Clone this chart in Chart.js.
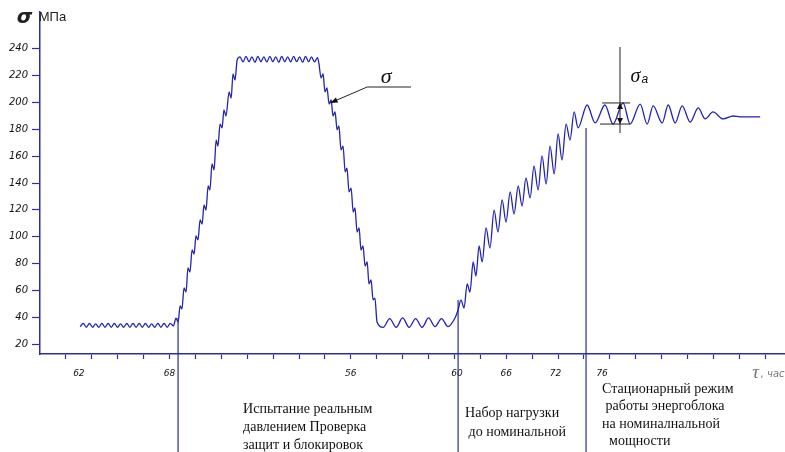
<!DOCTYPE html>
<html lang="ru">
  <head>
    <meta charset="UTF-8" />
    <title>Напряжение σ во времени</title>
    <style>
      html, body { margin: 0; padding: 0; background: #fff; }
      #wrap { width: 785px; height: 452px; }
    </style>
  </head>
  <body>
    <div id="wrap"><canvas id="chart"></canvas></div>

    <script src="https://cdn.jsdelivr.net/npm/chart.js@4.4.1/dist/chart.umd.min.js"></script>
    <script>
      // время в делениях оси (1 деление = 1 штрих), напряжение в МПа
      // выдержка до испытания
      const tFlat = [1.55, 1.67, 1.79, 1.91, 2.03, 2.15, 2.27, 2.39, 2.51, 2.63, 2.75, 2.87, 2.99, 3.11, 3.23, 3.35,
        3.47, 3.59, 3.71, 3.83, 3.95, 4.07, 4.19, 4.31, 4.43, 4.55, 4.67, 4.79, 4.91, 5.03, 5.15];
      const sFlat = [33, 35.5, 32.5, 35.5, 32.5, 35, 32.5, 35.5, 32.5, 35.5, 32.5, 35.5, 32.5, 35, 32.5, 35.5,
        32.5, 35.5, 32.5, 35.5, 32.5, 35.5, 32.5, 35, 32.5, 35.5, 32.5, 35.5, 32.5, 35.5, 33.5];

      // подъём давления
      const tRise = [5.25, 5.33, 5.41, 5.48, 5.56, 5.64, 5.71, 5.79, 5.87, 5.95, 6.02, 6.1, 6.18, 6.26, 6.33, 6.41,
        6.49, 6.56, 6.64, 6.72, 6.8, 6.87, 6.95, 7.03, 7.1, 7.18, 7.3, 7.38, 7.45, 7.53, 7.61];
      const sRise = [39.4, 36.4, 48.4, 46.2, 61.8, 58.8, 76.7, 73.7, 90.1, 87.1, 100.6, 97.6, 112.5, 109.5, 123.7, 119.9,
        137.8, 134.9, 154.2, 149.8, 172.1, 167.6, 184, 181.1, 194.5, 190, 207.9, 203.4, 221.3, 216.8, 231.7];

      // испытание
      const tTop = [7.72, 7.84, 7.95, 8.07, 8.18, 8.3, 8.41, 8.53, 8.64, 8.76, 8.87, 8.99, 9.1, 9.22, 9.33, 9.45,
        9.56, 9.68, 9.79, 9.91, 10.02, 10.14, 10.25, 10.37, 10.48, 10.6, 10.71];
      const sTop = [234, 230.3, 234.5, 230.5, 234, 230, 234.5, 230.5, 234, 230.3, 234.5, 230.5, 234, 230, 234.5, 230.5,
        234, 230.3, 234.5, 230.5, 234, 230, 234.5, 230.5, 234, 230.3, 233.5];

      // сброс давления
      const tFall = [10.77, 10.85, 10.93, 11, 11.08, 11.16, 11.24, 11.31, 11.39, 11.47, 11.54, 11.62, 11.7, 11.78, 11.85,
        11.93, 12.01, 12.09, 12.16, 12.24, 12.32, 12.39, 12.47, 12.55, 12.63, 12.7, 12.78, 12.86, 12.93, 13.01];
      const sFall = [228.8, 218.3, 221.3, 207.9, 210.9, 198.9, 201.9, 190, 193, 179.6, 182.6, 164.7, 167.6, 148.3, 151.2,
        133.4, 136.3, 118.4, 121.4, 103.5, 106.5, 90.1, 93.1, 78.2, 81.2, 64.8, 67.8, 52.9, 54.3, 36.4];

      // проверка защит
      const tLow = [13.25, 13.5, 13.75, 14, 14.25, 14.5, 14.75, 15, 15.25, 15.5, 15.75];
      const sLow = [32.5, 39, 32.5, 39.5, 32.5, 39, 32.5, 39.5, 33, 39, 33];

      // набор нагрузки
      const tLoad = [16.02, 16.14, 16.25, 16.37, 16.49, 16.6, 16.72, 16.83, 16.95, 17.07, 17.22, 17.37, 17.53, 17.68,
        17.84, 17.99, 18.15, 18.3, 18.46, 18.61, 18.76, 18.92, 19.07, 19.23, 19.38, 19.54, 19.69, 19.85, 20, 20.15,
        20.31, 20.46, 20.62, 20.77];
      const sLoad = [39.4, 45.4, 52.9, 46.9, 64.8, 58.8, 81.2, 70.7, 93.1, 81.2, 106.5, 91.6, 119.9, 103.5,
        127.4, 111, 133.4, 116.9, 137.8, 122.9, 143.8, 128.9, 152.7, 134.9, 160.2, 139.3, 167.6, 146.8, 176.6, 157.2,
        184, 172.1, 193, 181.1];

      // стационарный режим
      const tNominal = [21.12, 21.43, 21.81, 22.12, 22.51, 22.78, 23.17, 23.44, 23.67, 24.02, 24.25, 24.52, 24.79,
        25.1, 25.41, 25.68, 25.98, 26.37, 26.76, 27.03, 27.8];
      const sNominal = [198.2, 184.8, 198.2, 184, 199.7, 184, 198.9, 184, 197.5, 184.8, 198.2, 184.8, 197.5,
        185.5, 196, 187.8, 193, 187.8, 190, 189.3, 189.3];

      // границы этапов (вертикальные линии)
      const phaseAt = [5.33, 16.14, 21.08];
      const phaseTop = [39.4, 52.9, 181.1];
      const phaseBottom = -61;

      // оси
      const yTicks = [20, 40, 60, 80, 100, 120, 140, 160, 180, 200, 220, 240];
      const xTickAt = [1.5, 5, 12, 16.1, 18, 19.9, 21.7];
      const xTickText = ["62", "68", "56", "60", "66", "72", "76"];
      const xMarks = [];
      for (let i = 1; i <= 28; i++) if (!xTickAt.includes(i)) xMarks.push(i);

      const axisBlue = "#2e2e9e";
      const curveBlue = "#2222b4";

      const zip = (xs, ys) => xs.map((x, i) => ({ x: x, y: ys[i] }));
      const curve = [].concat(
        zip(tFlat, sFlat), zip(tRise, sRise), zip(tTop, sTop), zip(tFall, sFall),
        zip(tLow, sLow), zip(tLoad, sLoad), zip(tNominal, sNominal)
      );

      const datasets = [{
        data: curve,
        borderColor: curveBlue,
        borderWidth: 1.3,
        pointRadius: 0,
        cubicInterpolationMode: "monotone",
      }];
      phaseAt.forEach((x, i) => {
        datasets.push({
          data: [{ x: x, y: phaseTop[i] }, { x: x, y: phaseBottom }],
          borderColor: axisBlue,
          borderWidth: 1.2,
          pointRadius: 0,
          clip: false,
        });
      });

      // подписи и выноски
      const notes = [
        { x: 7.84, y: -28.4, step: 18, lines: ["Испытание реальным", "давлением Проверка", "защит и блокировок"] },
        { x: 16.41, y: -31.4, step: 19, lines: ["Набор нагрузки", " до номинальной"] },
        { x: 21.7, y: -13.5, step: 17.5, lines: ["Стационарный режим", " работы энергоблока", "на номиналнальной", "  мощности"] },
      ];
      const sigmaLeader = [[11.2, 199.7], [12.63, 211.6], [14.32, 211.6]];
      const ampLines = [
        [[22.39, 241.4], [22.39, 177.3]],
        [[21.7, 199.7], [22.78, 199.7]],
        [[21.62, 184], [22.78, 184]],
      ];

      const notesPlugin = {
        id: "notes",
        afterDraw(chart) {
          const { ctx } = chart;
          const xs = chart.scales.x, ys = chart.scales.y;
          const px = (v) => xs.getPixelForValue(v);
          const py = (v) => ys.getPixelForValue(v);
          ctx.save();

          // тексты под осью
          ctx.fillStyle = "#111";
          ctx.font = '14px "Liberation Serif", serif';
          ctx.textBaseline = "middle";
          notes.forEach((n) => {
            n.lines.forEach((s, i) => ctx.fillText(s, px(n.x), py(n.y) + i * n.step));
          });

          // выноска σ
          ctx.strokeStyle = "#222";
          ctx.lineWidth = 1;
          ctx.beginPath();
          sigmaLeader.forEach((p, i) => (i ? ctx.lineTo(px(p[0]), py(p[1])) : ctx.moveTo(px(p[0]), py(p[1]))));
          ctx.stroke();
          const ax = px(sigmaLeader[0][0]), ay = py(sigmaLeader[0][1]);
          const ang = Math.atan2(py(sigmaLeader[1][1]) - ay, px(sigmaLeader[1][0]) - ax);
          ctx.fillStyle = "#111";
          ctx.beginPath();
          ctx.moveTo(ax, ay);
          ctx.lineTo(ax + 8 * Math.cos(ang - 0.35), ay + 8 * Math.sin(ang - 0.35));
          ctx.lineTo(ax + 8 * Math.cos(ang + 0.35), ay + 8 * Math.sin(ang + 0.35));
          ctx.closePath();
          ctx.fill();
          ctx.font = 'italic 22px "Liberation Serif", serif';
          ctx.textAlign = "center";
          ctx.fillText("σ", px(13.36), py(219.1));

          // размах σa
          ctx.beginPath();
          ampLines.forEach((l) => {
            ctx.moveTo(px(l[0][0]), py(l[0][1]));
            ctx.lineTo(px(l[1][0]), py(l[1][1]));
          });
          ctx.stroke();
          const vx = px(ampLines[0][0][0]);
          [[ampLines[1][0][1], 1], [ampLines[2][0][1], -1]].forEach(([v, d]) => {
            const yy = py(v);
            ctx.beginPath();
            ctx.moveTo(vx, yy);
            ctx.lineTo(vx - 3, yy + 6 * d);
            ctx.lineTo(vx + 3, yy + 6 * d);
            ctx.closePath();
            ctx.fill();
          });
          ctx.textAlign = "left";
          ctx.font = 'italic 20px "Liberation Serif", serif';
          ctx.fillText("σ", px(22.8), py(219.1));
          ctx.font = 'italic 12px "Liberation Sans", sans-serif';
          ctx.fillText("a", px(23.22), py(217));

          // заголовок оси Y
          ctx.font = 'italic bold 20px "DejaVu Sans", sans-serif';
          ctx.fillStyle = "#222";
          ctx.fillText("σ", px(-0.9), py(263.5));
          ctx.font = '13px "Liberation Sans", sans-serif';
          ctx.fillText("МПа", px(-0.05), py(263.1));

          // заголовок оси X
          ctx.fillStyle = "#777";
          ctx.font = 'italic 19px "Liberation Serif", serif';
          ctx.fillText("τ", px(27.5), py(-1.8));
          ctx.font = 'italic 10px "DejaVu Sans", sans-serif';
          ctx.fillText(", час", px(27.82), py(-2.8));
          ctx.restore();
        },
      };

      const tickFont = { family: '"DejaVu Sans", sans-serif', style: "italic" };

      new Chart(document.getElementById("chart"), {
        type: "line",
        data: { datasets: datasets },
        plugins: [notesPlugin],
        options: {
          responsive: true,
          maintainAspectRatio: false,
          animation: false,
          parsing: false,
          layout: { padding: { top: 12, left: 0, right: 0, bottom: 0 } },
          plugins: { legend: { display: false }, tooltip: { enabled: false } },
          scales: {
            x: {
              type: "linear",
              min: 0,
              max: 28.76,
              afterBuildTicks: (s) => {
                s.ticks = xTickAt.concat(xMarks).map((v) => ({ value: v }));
              },
              afterFit: (s) => { s.height = 98; },
              border: { color: axisBlue, width: 1.5 },
              grid: {
                drawOnChartArea: false,
                tickLength: 5,
                tickWidth: 1.2,
                tickColor: (c) => (c.tick && Number.isInteger(c.tick.value) ? axisBlue : "rgba(0,0,0,0)"),
              },
              ticks: {
                autoSkip: false,
                maxRotation: 0,
                padding: 9,
                color: "#111",
                font: Object.assign({ size: 9 }, tickFont),
                callback: (v) => {
                  const i = xTickAt.indexOf(v);
                  return i < 0 ? "" : xTickText[i];
                },
              },
            },
            y: {
              type: "linear",
              min: 12.6,
              max: 267.5,
              afterBuildTicks: (s) => {
                s.ticks = yTicks.map((v) => ({ value: v }));
              },
              afterFit: (s) => { s.width = 40; },
              border: { color: axisBlue, width: 1.5 },
              grid: { drawOnChartArea: false, tickLength: 8, tickWidth: 1.2, tickColor: axisBlue },
              ticks: {
                padding: 4,
                color: "#111",
                font: Object.assign({ size: 10 }, tickFont),
              },
            },
          },
        },
      });
    </script>
  </body>
</html>
